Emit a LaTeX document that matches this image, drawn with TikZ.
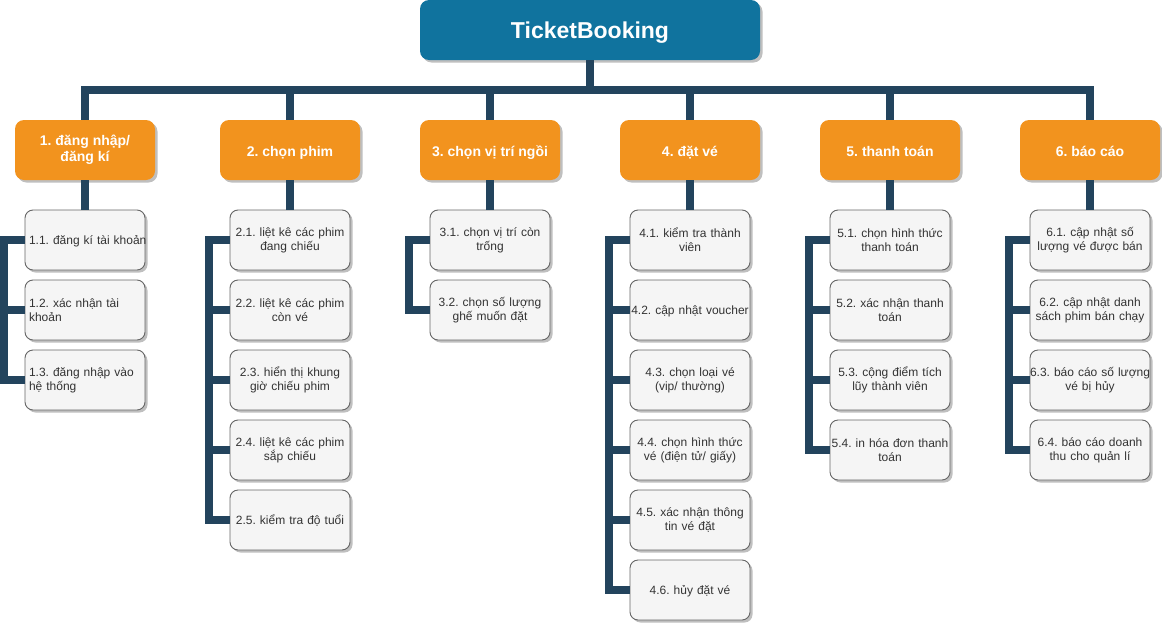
\documentclass[tikz,border=0pt]{standalone}
\usepackage{fontspec}
\setmainfont{Liberation Sans}
\usetikzlibrary{shadows}
\definecolor{lineC}{HTML}{23445D}
\definecolor{rootC}{HTML}{10739E}
\definecolor{catC}{HTML}{F2931E}
\definecolor{leafF}{HTML}{F5F5F5}
\definecolor{leafD}{HTML}{666666}
\definecolor{leafT}{HTML}{333333}
\frenchspacing
\begin{document}
\begin{tikzpicture}[x=1pt,y=-1pt,
  conn/.style={draw=lineC,line width=7.5pt,line join=miter},
  shad/.style={drop shadow={shadow xshift=2.5pt,shadow yshift=-2.5pt,opacity=0.25,fill=black}},
  rootbox/.style={shad,rounded corners=9pt,fill=rootC,draw=none,minimum width=340pt,minimum height=60pt,inner sep=0pt,text=white,text height=16.5pt,text depth=0pt,font=\fontsize{23}{27}\selectfont\bfseries},
  catbox/.style={shad,rounded corners=9pt,fill=catC,draw=none,minimum width=140pt,minimum height=60pt,inner sep=0pt,text=white,align=center,font=\fontsize{14}{16}\selectfont\bfseries\frenchspacing},
  cat1/.style={catbox,text height=12pt,text depth=0pt},
  leaf/.style={shad,rounded corners=8pt,fill=leafF,draw=leafD,line width=0.9pt,minimum width=120pt,minimum height=60pt,inner ysep=0pt,inner xsep=1pt,text width=118pt,text=leafT,align=center,font=\fontsize{12}{14}\selectfont\frenchspacing},
  leaf1/.style={leaf,text height=9pt,text depth=0pt},
  leafl/.style={leaf,align=left,inner xsep=4pt,text width=112pt}]
\useasboundingbox (0,0) rectangle (1162,624);

\node[rootbox] (root) at (590,30) {TicketBooking};

\node[catbox] (c1) at (85,150) {1. đăng nhập/\\đăng kí};
\node[cat1] (c2) at (290,150) {2. chọn phim};
\node[cat1] (c3) at (490,150) {3. chọn vị trí ngồi};
\node[cat1] (c4) at (690,150) {4. đặt vé};
\node[cat1] (c5) at (890,150) {5. thanh toán};
\node[cat1] (c6) at (1090,150) {6. báo cáo};

\node[leafl,text height=9pt,text depth=0pt] (l11) at (85,240) {\makebox[112pt][l]{1.1. đăng kí tài khoản}};
\node[leafl] (l12) at (85,310) {1.2. xác nhận tài\\khoản};
\node[leafl] (l13) at (85,380) {1.3. đăng nhập vào\\hệ thống};

\node[leaf] (l21) at (290,240) {2.1. liệt kê các phim\\đang chiếu};
\node[leaf] (l22) at (290,310) {2.2. liệt kê các phim\\còn vé};
\node[leaf] (l23) at (290,380) {2.3. hiển thị khung\\giờ chiếu phim};
\node[leaf] (l24) at (290,450) {2.4. liệt kê các phim\\sắp chiếu};
\node[leaf1] (l25) at (290,520) {2.5. kiểm tra độ tuổi};

\node[leaf] (l31) at (490,240) {3.1. chọn vị trí còn\\trống};
\node[leaf] (l32) at (490,310) {3.2. chọn số lượng\\ghế muốn đặt};

\node[leaf] (l41) at (690,240) {4.1. kiểm tra thành\\viên};
\node[leaf1] (l42) at (690,310) {4.2. cập nhật voucher};
\node[leaf] (l43) at (690,380) {4.3. chọn loại vé\\(vip/ thường)};
\node[leaf] (l44) at (690,450) {4.4. chọn hình thức\\vé (điện tử/ giấy)};
\node[leaf] (l45) at (690,520) {4.5. xác nhận thông\\tin vé đặt};
\node[leaf1] (l46) at (690,590) {4.6. hủy đặt vé};

\node[leaf] (l51) at (890,240) {5.1. chọn hình thức\\thanh toán};
\node[leaf] (l52) at (890,310) {5.2. xác nhận thanh\\toán};
\node[leaf] (l53) at (890,380) {5.3. cộng điểm tích\\lũy thành viên};
\node[leaf] (l54) at (890,450) {\makebox[118pt][c]{5.4. in hóa đơn thanh}\\toán};

\node[leaf] (l61) at (1090,240) {6.1. cập nhật số\\lượng vé được bán};
\node[leaf] (l62) at (1090,310) {6.2. cập nhật danh\\sách phim bán chạy};
\node[leaf] (l63) at (1090,380) {\makebox[118pt][c]{6.3. báo cáo số lượng}\\vé bị hủy};
\node[leaf] (l64) at (1090,450) {6.4. báo cáo doanh\\thu cho quản lí};

% root to categories
\foreach \c in {c1,c2,c3,c4,c5,c6}
  \draw[conn] (root.south) -- ++(0,30) -| (\c.north);

% categories to first leaf
\foreach \c/\l in {c1/l11,c2/l21,c3/l31,c4/l41,c5/l51,c6/l61}
  \draw[conn] (\c.south) -- (\l.north);

% brackets
\foreach \l in {l12,l13}
  \draw[conn] (l11.west) -- ++(-20.5,0) |- (\l.west);
\foreach \l in {l22,l23,l24,l25}
  \draw[conn] (l21.west) -- ++(-20.5,0) |- (\l.west);
\foreach \l in {l32}
  \draw[conn] (l31.west) -- ++(-20.5,0) |- (\l.west);
\foreach \l in {l42,l43,l44,l45,l46}
  \draw[conn] (l41.west) -- ++(-20.5,0) |- (\l.west);
\foreach \l in {l52,l53,l54}
  \draw[conn] (l51.west) -- ++(-20.5,0) |- (\l.west);
\foreach \l in {l62,l63,l64}
  \draw[conn] (l61.west) -- ++(-20.5,0) |- (\l.west);
\end{tikzpicture}
\end{document}
